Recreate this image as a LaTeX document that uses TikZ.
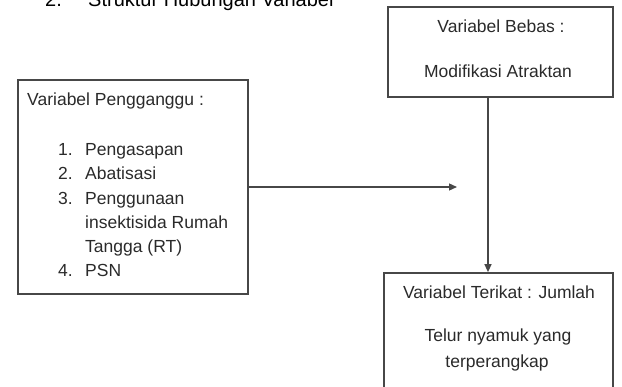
\documentclass[tikz,border=0pt]{standalone}
\usepackage{fontspec}
\setmainfont{Liberation Sans}
\usetikzlibrary{arrows.meta}
\definecolor{boxc}{HTML}{474747}
\definecolor{txtc}{HTML}{2A2A2A}
\begin{document}
\begin{tikzpicture}[x=1pt,y=-1pt,
  box/.style={draw=boxc, line width=1.7pt, inner sep=0pt},
  txt/.style={text=txtc, font=\fontsize{17.5}{21}\selectfont, inner sep=0pt},
  head/.style={text=black, font=\fontsize{20}{24}\selectfont, inner sep=0pt, anchor=base west},
  conn/.style={draw=boxc, line width=1.3pt, -{Triangle[length=8pt,width=7pt]}}]
\useasboundingbox (0,0) rectangle (622,387);
% heading (cut off at top)
\node[head] (hnum) at (45,7) {2.};
\node[head] (htxt) at (88,7) {Struktur Hubungan Variabel};
% boxes
\node[box, minimum width=225pt, minimum height=90pt] (bebas) at (500.5,52) {};
\node[box, minimum width=230pt, minimum height=214pt] (ganggu) at (133,187) {};
\node[box, minimum width=229pt, minimum height=130pt] (terikat) at (498.5,338) {};
% top box text
\node[txt, anchor=base] (b1) at (501,33) {Variabel Bebas :};
\node[txt, anchor=base] (b2) at (498,78) {Modifikasi Atraktan};
% left box text
\node[txt, anchor=base west] (g0) at (27,106) {Variabel Pengganggu :};
\node[txt, anchor=base west] (n1) at (58,156) {1.};
\node[txt, anchor=base west] (i1) at (85,156) {Pengasapan};
\node[txt, anchor=base west] (n2) at (58,180) {2.};
\node[txt, anchor=base west] (i2) at (85,180) {Abatisasi};
\node[txt, anchor=base west] (n3) at (58,205) {3.};
\node[txt, anchor=base west] (i3) at (85,205) {Penggunaan};
\node[txt, anchor=base west] (i3b) at (85,229) {insektisida Rumah};
\node[txt, anchor=base west] (i3c) at (85,253) {Tangga (RT)};
\node[txt, anchor=base west] (n4) at (58,277) {4.};
\node[txt, anchor=base west] (i4) at (85,277) {PSN};
% bottom box text
\node[txt, anchor=base] (t1) at (499,299) {Variabel Terikat : Jumlah};
\node[txt, anchor=base] (t2) at (498,342) {Telur nyamuk yang};
\node[txt, anchor=base] (t3) at (497,368) {terperangkap};
% connectors
\coordinate (hend) at (457,187);
\coordinate (vx) at (488,0);
\draw[conn] (ganggu.east) -- (hend);
\draw[conn] (bebas.south -| vx) -- (terikat.north -| vx);
\end{tikzpicture}
\end{document}
